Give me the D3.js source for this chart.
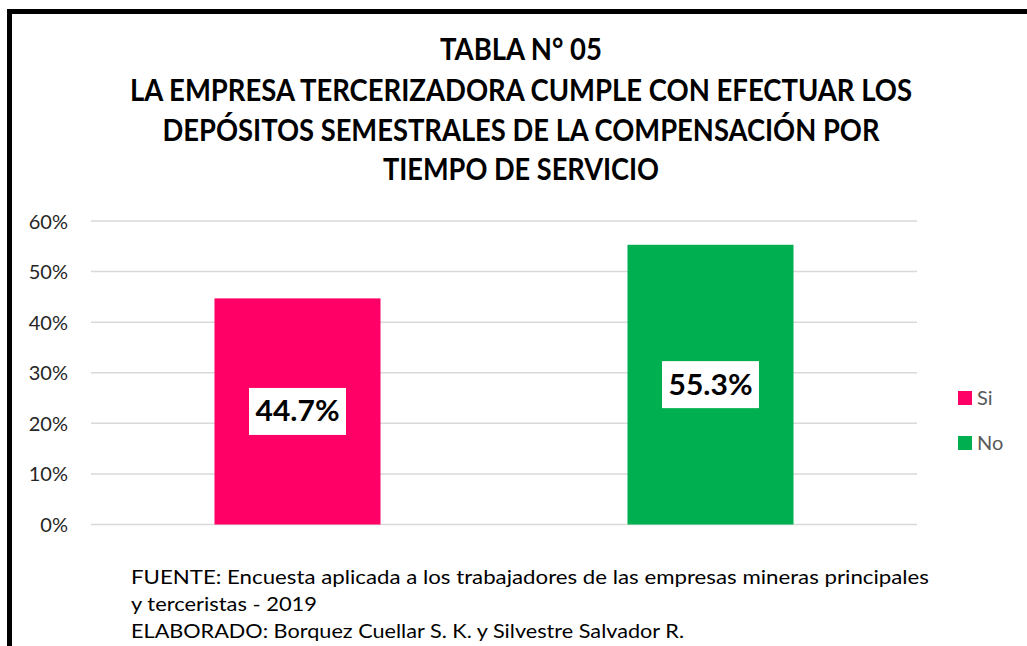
<!DOCTYPE html>
<html><head><meta charset="utf-8">
<script src="https://cdn.jsdelivr.net/npm/d3@7"></script>
<style>body{margin:0;background:#fff;}svg{display:block;font-family:Lato,"Open Sans",sans-serif;}</style>
</head><body>
<svg id="c" width="1027" height="646"></svg>
<script>
const categories = ["Si", "No"];
const values = [0.447, 0.553];
const valueLabels = ["44.7%", "55.3%"];
const colors = ["#FF0066", "#00B050"];
const yTicks = [0, 0.1, 0.2, 0.3, 0.4, 0.5, 0.6];
const titleLines = ["TABLA N° 05", "LA EMPRESA TERCERIZADORA CUMPLE CON EFECTUAR LOS", "DEPÓSITOS SEMESTRALES DE LA COMPENSACIÓN POR", "TIEMPO DE SERVICIO"];
const footerLines = ["FUENTE: Encuesta aplicada a los trabajadores de las empresas mineras principales", "y terceristas - 2019", "ELABORADO: Borquez Cuellar S. K. y Silvestre Salvador R."];

const svg = d3.select("#c");
// frame
svg.append("rect").attr("x", 9.5).attr("y", 11.5).attr("width", 1100).attr("height", 700)
  .attr("fill", "none").attr("stroke", "#000").attr("stroke-width", 5);

function fit(sel, w) {
  sel.attr("textLength", w).attr("lengthAdjust", "spacingAndGlyphs");
}

// title
const titleW = [162, 782, 717, 276];
const titleY = [60, 101, 141, 180];
titleLines.forEach((t, i) => {
  const el = svg.append("text").attr("x", 521).attr("y", titleY[i]).attr("text-anchor", "middle")
    .attr("font-weight", "bold").attr("font-size", 31).attr("fill", "#000").text(t);
  fit(el, titleW[i]);
});

const x = d3.scaleBand().domain(categories).range([91, 917]).paddingInner(0.598).paddingOuter(0.299);
const y = d3.scaleLinear().domain([0, 0.6]).range([524.5, 221]);

// grid
svg.append("g").selectAll("line").data(yTicks).join("line")
  .attr("x1", 91).attr("x2", 917).attr("y1", d => y(d)).attr("y2", d => y(d))
  .attr("stroke", "#d9d9d9").attr("stroke-width", 1.5);

// y axis labels
const yAxis = d3.axisLeft(y).tickValues(yTicks).tickFormat(d3.format(".0%")).tickSize(0).tickPadding(0);
const ga = svg.append("g").attr("transform", "translate(68,0)").call(yAxis);
ga.select(".domain").remove();
ga.selectAll("text").attr("font-size", 20).attr("fill", "#262626").attr("font-family", "Lato, sans-serif").attr("dy", "0.35em");

// bars
svg.append("g").selectAll("rect").data(categories).join("rect")
  .attr("x", d => x(d)).attr("width", x.bandwidth())
  .attr("y", (d, i) => y(values[i])).attr("height", (d, i) => y(0) - y(values[i]))
  .attr("fill", (d, i) => colors[i]);

// data labels
categories.forEach((c, i) => {
  const cx = x(c) + x.bandwidth() / 2;
  const cy = (y(values[i]) + y(0)) / 2;
  svg.append("rect").attr("x", cx - 48.5).attr("y", cy - 23.5).attr("width", 97).attr("height", 47).attr("fill", "#fff");
  const t = svg.append("text").attr("x", cx).attr("y", cy + 10).attr("text-anchor", "middle")
    .attr("font-weight", "bold").attr("font-size", 28).attr("fill", "#000").text(valueLabels[i]);
  fit(t, 84);
});

// legend
categories.forEach((c, i) => {
  const ly = 398 + i * 45;
  svg.append("rect").attr("x", 958).attr("y", ly - 7).attr("width", 14).attr("height", 14).attr("fill", colors[i]);
  svg.append("text").attr("x", 977).attr("y", ly + 7).attr("font-size", 20).attr("fill", "#595959").text(c);
});

// footer
const footW = [798, 186, 553];
const footY = [584, 611, 638];
footerLines.forEach((t, i) => {
  const el = svg.append("text").attr("x", 131).attr("y", footY[i]).attr("font-size", 19).attr("fill", "#000").text(t);
  fit(el, footW[i]);
});
</script>
</body></html>
